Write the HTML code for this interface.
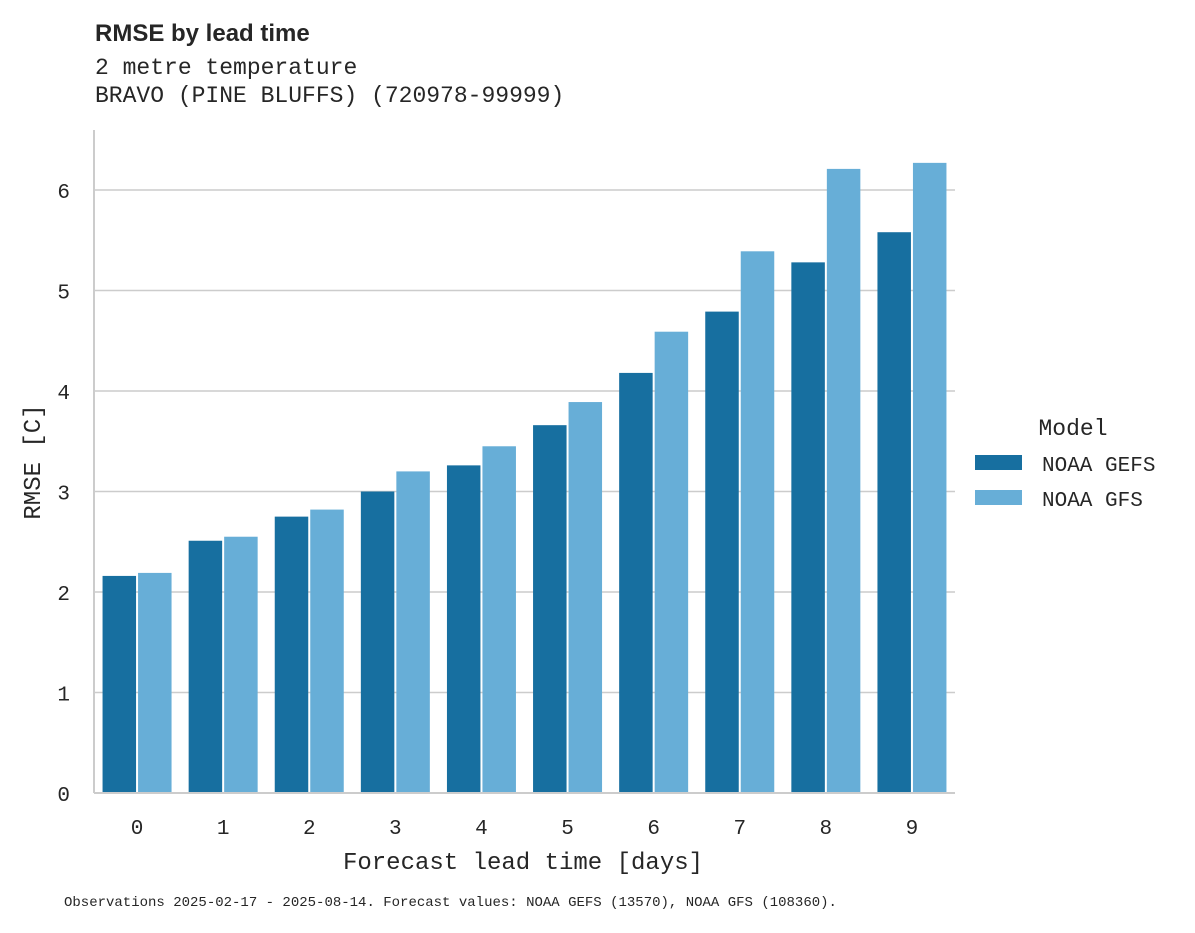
<!DOCTYPE html>
<html><head><meta charset="utf-8"><style>
body{margin:0;background:#fff;}
svg text{font-family:"Liberation Mono",monospace;fill:#262626;}
</style></head><body>
<svg id="chart" width="1195" height="928" xmlns="http://www.w3.org/2000/svg">
<text x="95" y="41" style="font-family:'Liberation Sans',sans-serif;font-weight:bold;font-size:24px">RMSE by lead time</text>
<text x="95" y="74" font-size="23">2 metre temperature</text>
<text x="95" y="102" font-size="23">BRAVO (PINE BLUFFS) (720978-99999)</text>
<g id="grid"></g><g id="bars"></g><g id="axes"></g>
<text x="523" y="869" font-size="24" text-anchor="middle">Forecast lead time [days]</text>
<text transform="translate(40,462) rotate(-90)" font-size="24" text-anchor="middle">RMSE [C]</text>
<g>
<text x="1073" y="435" font-size="23" text-anchor="middle">Model</text>
<rect x="975" y="455" width="47" height="15" fill="#176fa0"/>
<text x="1042" y="471" font-size="21">NOAA GEFS</text>
<rect x="975" y="490" width="47" height="15" fill="#67aed7"/>
<text x="1042" y="506" font-size="21">NOAA GFS</text>
</g>
<text x="64" y="906" font-size="14">Observations 2025-02-17 - 2025-08-14. Forecast values: NOAA GEFS (13570), NOAA GFS (108360).</text>
</svg>
<script>
const categories=["0","1","2","3","4","5","6","7","8","9"];
const gefs=[2.16,2.51,2.75,3.00,3.26,3.66,4.18,4.79,5.28,5.58];
const gfs=[2.19,2.55,2.82,3.20,3.45,3.89,4.59,5.39,6.21,6.27];
const yTicks=[0,1,2,3,4,5,6];
const NS="http://www.w3.org/2000/svg";
const x0=94,x1=955,y0=793,pxPerUnit=100.5;
const band=(x1-x0)/categories.length;
function xScale(i){return x0+band*i;}
function yScale(v){return y0-v*pxPerUnit;}
function mk(tag,attrs,parent){const e=document.createElementNS(NS,tag);for(const k in attrs)e.setAttribute(k,attrs[k]);document.getElementById(parent).appendChild(e);return e;}
yTicks.forEach(t=>{
  const l=mk('line',{x1:x0,x2:x1,y1:yScale(t),y2:yScale(t),stroke:'#cccccc','stroke-width':1.6},'grid');
  
  
  const tx=mk('text',{x:70,y:yScale(t)+8,'font-size':21,'text-anchor':'end'},'axes');
  tx.textContent=t;
  
  
});
categories.forEach((c,i)=>{
  const cx=xScale(i)+band/2;
  const bw=33.5;
  const r1=mk('rect',{x:cx-bw-1,y:yScale(gefs[i]),width:bw,height:yScale(0)-yScale(gefs[i]),fill:'#176fa0'},'bars');
  
  
  const r2=mk('rect',{x:cx+1,y:yScale(gfs[i]),width:bw,height:yScale(0)-yScale(gfs[i]),fill:'#67aed7'},'bars');
  
  
  const tx=mk('text',{x:cx,y:834,'font-size':21,'text-anchor':'middle'},'axes');
  tx.textContent=c;
  
  
});
const ya=mk('line',{x1:x0,x2:x0,y1:130,y2:y0,stroke:'#cccccc','stroke-width':2},'axes');


const xa=mk('line',{x1:x0,x2:x1,y1:y0,y2:y0,stroke:'#cccccc','stroke-width':2},'axes');


</script>
</body></html>
